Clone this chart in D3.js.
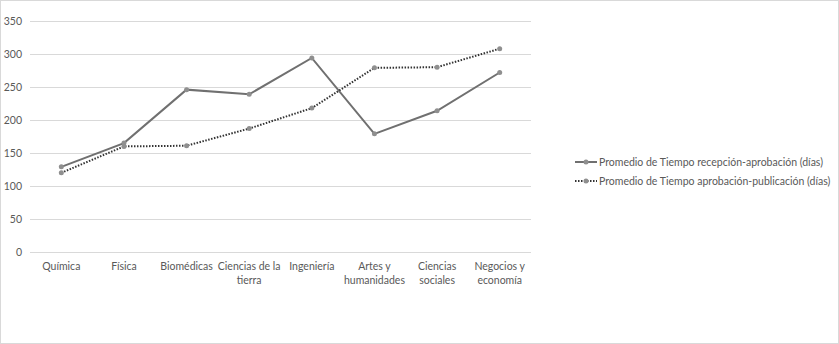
<!DOCTYPE html>
<html>
<head>
<meta charset="utf-8">
<script src="https://cdn.jsdelivr.net/npm/d3@7"></script>
<style>
  body { margin: 0; background: #fff; }
  text { font-family: Lato, "Open Sans", sans-serif; fill: #595959; }
</style>
</head>
<body>
<div id="chart"></div>
<script>
// categories and the two series
let categories = ["Química", "Física", "Biomédicas", "Ciencias de la tierra", "Ingeniería",
                  "Artes y humanidades", "Ciencias sociales", "Negocios y economía"];
// category labels as they wrap in the picture
let labelLines = [["Química"], ["Física"], ["Biomédicas"], ["Ciencias de la", "tierra"], ["Ingeniería"],
                  ["Artes y", "humanidades"], ["Ciencias", "sociales"], ["Negocios y", "economía"]];
let recepcionAprobacion = [129, 165, 246, 239, 294, 179, 214, 272];
let aprobacionPublicacion = [120, 160, 161, 187, 218, 279, 280, 308];
let seriesNames = ["Promedio de Tiempo recepción-aprobación (días)",
                   "Promedio de Tiempo aprobación-publicación (días)"];
let yTicks = [0, 50, 100, 150, 200, 250, 300, 350];

let width = 839;
let height = 344;

let svg = d3.select("#chart").append("svg")
  .attr("width", width).attr("height", height);

// light outer frame
svg.append("rect")
  .attr("x", 0.5).attr("y", 0.5)
  .attr("width", width - 1).attr("height", height - 1)
  .attr("fill", "#fff").attr("stroke", "#d9d9d9");

let xScale = d3.scaleBand()
  .domain(categories)
  .range([30, 531]);

let yScale = d3.scaleLinear()
  .domain([0, 350])
  .range([252, 21]);

// gridlines
svg.append("g")
  .selectAll("line")
  .data(yTicks)
  .enter()
  .append("line")
  .attr("x1", 30).attr("x2", 531)
  .attr("y1", d => Math.round(yScale(d)) + 0.5)
  .attr("y2", d => Math.round(yScale(d)) + 0.5)
  .attr("stroke", "#d9d9d9")
  .attr("stroke-width", 1);

// y axis labels
let yAxis = d3.axisLeft(yScale).tickValues(yTicks).tickSize(0).tickPadding(8);
let yg = svg.append("g")
  .attr("transform", "translate(30,0)")
  .call(yAxis);
yg.select(".domain").remove();
yg.selectAll("text")
  .attr("fill", "#595959")
  .style("font-size", "10.5px")
  .style("font-family", "Lato, 'Open Sans', sans-serif");

// x labels (wrapped)
let xg = svg.append("g");
categories.forEach((c, i) => {
  let t = xg.append("text")
    .attr("x", xScale(c) + xScale.bandwidth() / 2)
    .attr("y", 270)
    .attr("text-anchor", "middle")
    .style("font-size", "10.5px");
  labelLines[i].forEach((s, j) => {
    t.append("tspan")
      .attr("x", xScale(c) + xScale.bandwidth() / 2)
      .attr("dy", j === 0 ? 0 : 13.5)
      .text(s);
  });
});

let cx = (d, i) => xScale(categories[i]) + xScale.bandwidth() / 2;

let line = d3.line()
  .x(cx)
  .y(d => yScale(d));

// series 1: solid
svg.append("path")
  .datum(recepcionAprobacion)
  .attr("d", line)
  .attr("fill", "none")
  .attr("stroke", "#707070")
  .attr("stroke-width", 2);

svg.append("g")
  .selectAll("circle")
  .data(recepcionAprobacion)
  .enter()
  .append("circle")
  .attr("cx", cx)
  .attr("cy", d => yScale(d))
  .attr("r", 2.5)
  .attr("fill", "#8f8f8f");

// series 2: dotted
svg.append("path")
  .datum(aprobacionPublicacion)
  .attr("d", line)
  .attr("fill", "none")
  .attr("stroke", "#333")
  .attr("stroke-width", 2)
  .attr("stroke-dasharray", "1.5 1.5");

svg.append("g")
  .selectAll("circle")
  .data(aprobacionPublicacion)
  .enter()
  .append("circle")
  .attr("cx", cx)
  .attr("cy", d => yScale(d))
  .attr("r", 2.5)
  .attr("fill", "#8f8f8f");

// legend
let legend = svg.append("g").attr("transform", "translate(575,162)");
seriesNames.forEach((name, i) => {
  let g = legend.append("g").attr("transform", `translate(0, ${i * 19})`);
  g.append("line")
    .attr("x1", 0).attr("x2", 22)
    .attr("y1", 0).attr("y2", 0)
    .attr("stroke", i === 0 ? "#707070" : "#333")
    .attr("stroke-width", 2)
    .attr("stroke-dasharray", i === 0 ? null : "1.5 1.5");
  g.append("circle")
    .attr("cx", 11).attr("cy", 0).attr("r", 2.5)
    .attr("fill", "#8f8f8f");
  g.append("text")
    .attr("x", 24).attr("y", 3.8)
    .style("font-size", "10.5px")
    .text(name);
});
</script>
</body>
</html>
